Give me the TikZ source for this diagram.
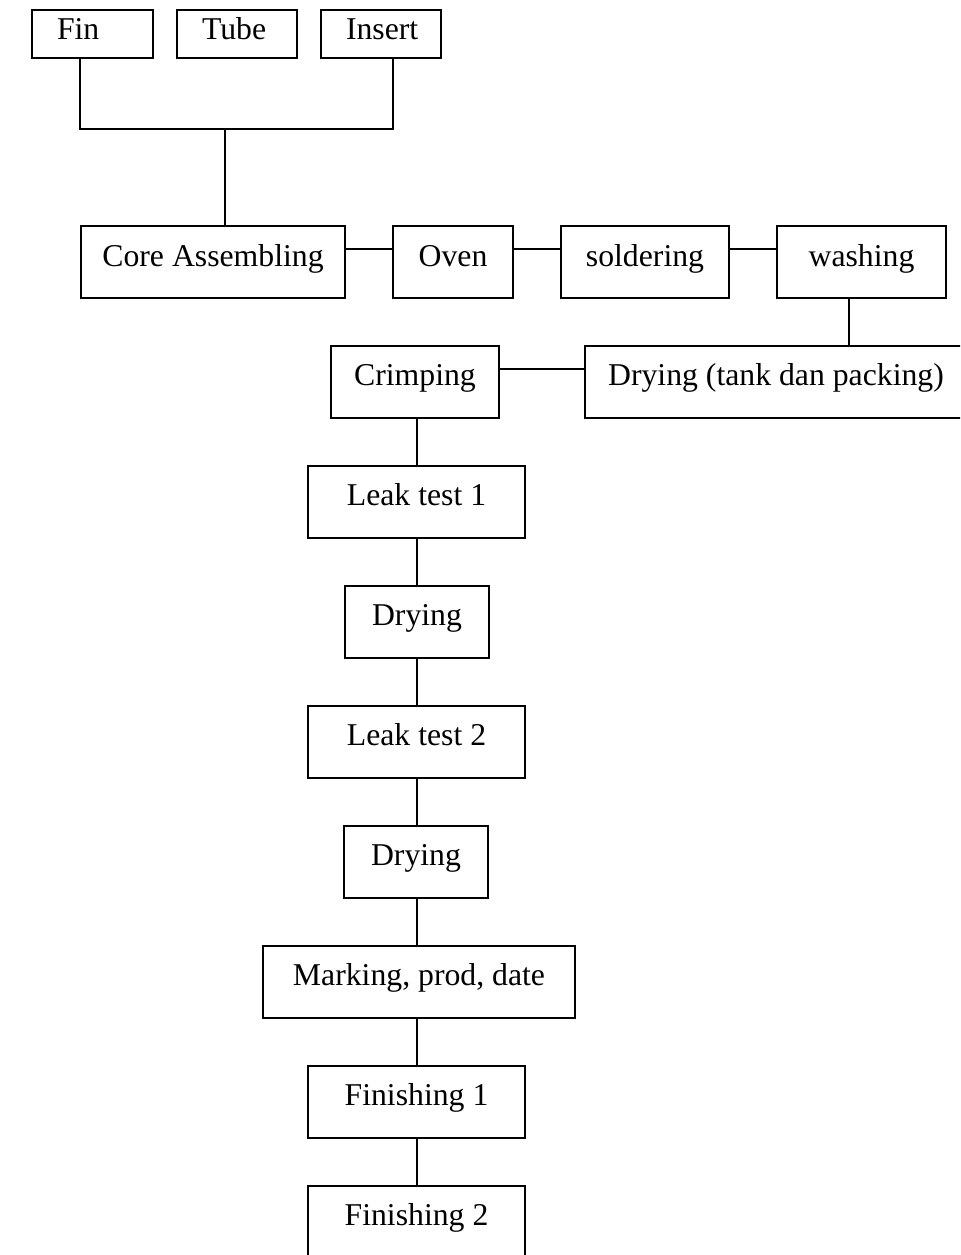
\documentclass[tikz,border=0pt]{standalone}
\usepackage{fontspec}
\setmainfont{Liberation Serif}
\usetikzlibrary{calc}

\tikzset{
  box/.style={draw, line width=1.5pt, inner sep=0pt, minimum height=54pt,
    font=\fontsize{23.8pt}{28pt}\selectfont, text height=16pt, text depth=11.5pt},
  rowbox/.style={box, text depth=8.5pt},
  topbox/.style={box, minimum height=36pt, text depth=7pt, align=left,
    inner xsep=18.75pt, text width=#1},
  link/.style={line width=1.5pt}
}

\begin{document}
\begin{tikzpicture}[x=0.75pt, y=-0.75pt]
  \useasboundingbox (0,0) rectangle (960,1255);
  \clip (0,0) rectangle (960,1255);

  % raw materials
  \node[topbox=53.25pt] (fin)    at (92.5,34) {Fin};
  \node[topbox=52.5pt]  (tube)   at (237,34)  {Tube};
  \node[topbox=52.5pt]  (insert) at (381,34)  {Insert};

  % assembly line, left to right
  \node[rowbox, minimum width=198pt]    (core)   at (213,262)   {Core Assembling};
  \node[rowbox, minimum width=90pt]     (oven)   at (453,262)   {Oven};
  \node[rowbox, minimum width=126pt]    (solder) at (645,262)   {soldering};
  \node[rowbox, minimum width=126.75pt] (wash)   at (861.5,262) {washing};

  % tank drying and crimping
  \node[box, minimum width=286.5pt] (drytank) at (776,382) {Drying (tank dan packing)};
  \node[box, minimum width=126pt]   (crimp)   at (415,382) {Crimping};

  % testing and finishing, top to bottom
  \node[box, minimum width=162.75pt] (leak1) at (416.5,502)  {Leak test 1};
  \node[box, minimum width=108pt]    (dry1)  at (417,622)    {Drying};
  \node[box, minimum width=162.75pt] (leak2) at (416.5,742)  {Leak test 2};
  \node[box, minimum width=108pt]    (dry2)  at (416,862)    {Drying};
  \node[box, minimum width=234pt]    (mark)  at (419,982)    {Marking, prod, date};
  \node[box, minimum width=162.75pt] (fin1)  at (416.5,1102) {Finishing 1};
  \node[box, minimum width=162.75pt] (fin2)  at (416.5,1222) {Finishing 2};

  % materials joined into the core
  \coordinate (bar) at (225,129);
  \draw[link] ([xshift=-9.4pt]fin.south) |- (bar) -| ([xshift=9pt]insert.south);
  \draw[link] (bar) -- (bar |- core.north);

  % assembly row links
  \draw[link] ([yshift=9.75pt]core.east)   -- ([yshift=9.75pt]core.east -| oven.west);
  \draw[link] ([yshift=9.75pt]oven.east)   -- ([yshift=9.75pt]oven.east -| solder.west);
  \draw[link] ([yshift=9.75pt]solder.east) -- ([yshift=9.75pt]solder.east -| wash.west);

  % washing down to tank drying, then across to crimping
  \draw[link] ([xshift=-9.4pt]wash.south) -- ([xshift=-9.4pt]wash.south |- drytank.north);
  \draw[link] ([yshift=9.75pt]crimp.east) -- ([yshift=9.75pt]crimp.east -| drytank.west);

  % vertical chain, all on one plumb line
  \coordinate (chain) at (417,0);
  \draw[link] (chain |- crimp.south) -- (chain |- leak1.north);
  \draw[link] (chain |- leak1.south) -- (chain |- dry1.north);
  \draw[link] (chain |- dry1.south)  -- (chain |- leak2.north);
  \draw[link] (chain |- leak2.south) -- (chain |- dry2.north);
  \draw[link] (chain |- dry2.south)  -- (chain |- mark.north);
  \draw[link] (chain |- mark.south)  -- (chain |- fin1.north);
  \draw[link] (chain |- fin1.south)  -- (chain |- fin2.north);
\end{tikzpicture}
\end{document}
